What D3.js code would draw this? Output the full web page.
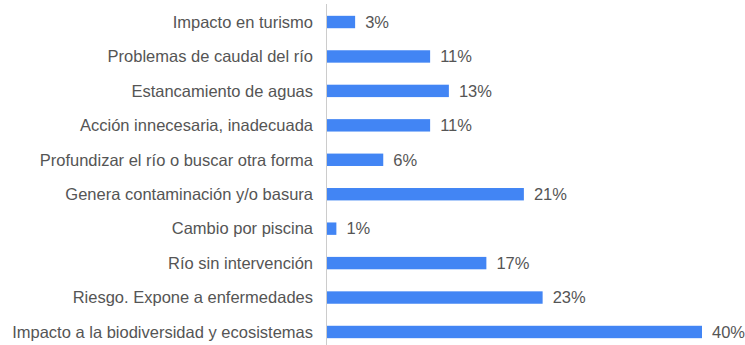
<!DOCTYPE html>
<html>
<head>
<meta charset="utf-8">
<script src="https://cdn.jsdelivr.net/npm/d3@7"></script>
<style>
  body { margin: 0; background: #fff; }
  text { font-family: "Liberation Sans", Arial, sans-serif; fill: #555; }
</style>
</head>
<body>
<div id="chart"></div>
<script>
const categories = [
  'Impacto en turismo',
  'Problemas de caudal del río',
  'Estancamiento de aguas',
  'Acción innecesaria, inadecuada',
  'Profundizar el río o buscar otra forma',
  'Genera contaminación y/o basura',
  'Cambio por piscina',
  'Río sin intervención',
  'Riesgo. Expone a enfermedades',
  'Impacto a la biodiversidad y ecosistemas'
];
const values = [3, 11, 13, 11, 6, 21, 1, 17, 23, 40];

const width = 745, height = 345;
const axisX = 327;

const svg = d3.select('#chart').append('svg')
  .attr('width', width)
  .attr('height', height);

const xScale = d3.scaleLinear()
  .domain([0, 40])
  .range([axisX, 702]);

const yScale = d3.scaleBand()
  .domain(categories)
  .range([4.8, 349.2])
  .paddingInner(0.64)
  .paddingOuter(0.32);

// bars
svg.append('g').selectAll('rect')
  .data(values)
  .enter().append('rect')
    .attr('x', xScale(0))
    .attr('y', (d, i) => yScale(categories[i]))
    .attr('width', d => xScale(d) - xScale(0))
    .attr('height', yScale.bandwidth())
    .attr('fill', '#4285f4');

// category labels
svg.append('g').selectAll('text')
  .data(categories)
  .enter().append('text')
    .attr('x', 313)
    .attr('y', d => yScale(d) + yScale.bandwidth() / 2)
    .attr('dy', '0.35em')
    .attr('text-anchor', 'end')
    .style('font-size', '16.5px')
    .text(d => d);

// value labels
svg.append('g').selectAll('text')
  .data(values)
  .enter().append('text')
    .attr('x', d => xScale(d) + 10)
    .attr('y', (d, i) => yScale(categories[i]) + yScale.bandwidth() / 2)
    .attr('dy', '0.35em')
    .style('font-size', '16.5px')
    .text(d => d + '%');

// axis line
svg.append('line')
  .attr('x1', axisX - 0.5).attr('x2', axisX - 0.5)
  .attr('y1', 4).attr('y2', height)
  .attr('stroke', '#ccc')
  .attr('stroke-width', 1);
</script>
</body>
</html>
